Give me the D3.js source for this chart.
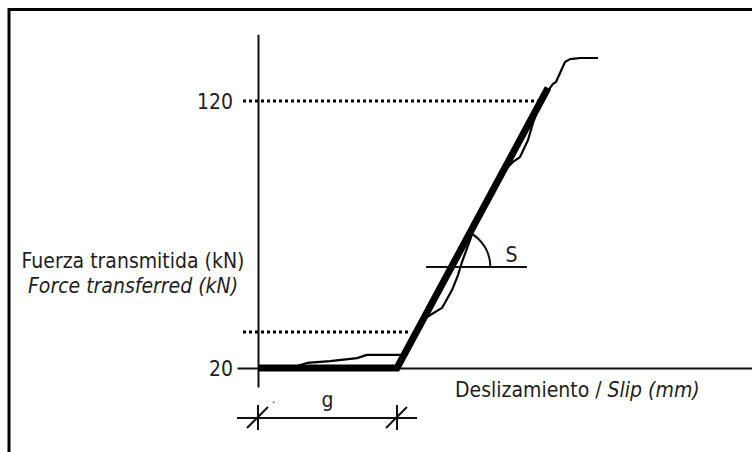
<!DOCTYPE html>
<html>
<head>
<meta charset="utf-8">
<script src="https://cdn.jsdelivr.net/npm/d3@7"></script>
<style>
body { margin: 0; background: #fff; }
svg text { font-family: "DejaVu Sans Condensed", "DejaVu Sans", sans-serif; font-size: 21px; fill: #1e1e1e; }
</style>
</head>
<body>
<svg></svg>
<script>
var width = 752;
var height = 452;

// measured test curve: slip (mm) / force (kN)
var testSlip  = [0.1, 1.1, 1.95, 2.45, 3.6, 4.95, 5.45, 5.95, 6.95, 7.3, 8.1, 8.45, 9.2, 9.7, 10.0, 10.2, 10.6, 10.8, 11.6, 12.45, 12.75, 13.1, 13.5, 13.75, 13.9, 14.35, 14.6, 14.75, 14.9, 15.35, 15.6, 16.1, 17.0];
var testForce = [20.4, 20.4, 20.7, 21.9, 22.6, 23.7, 24.9, 24.9, 24.9, 24.9, 36.1, 39.1, 42.5, 49.2, 54.8, 59.7, 67.9, 72.4, 83.7, 94.9, 97.2, 99.0, 105.4, 111.8, 114.8, 121.1, 124.9, 126.4, 127.1, 134.6, 135.7, 136.1, 136.1];

// idealised bilinear law
var idealSlip  = [0, 6.95, 14.5];
var idealForce = [20, 20, 124.9];

// dotted reference levels and where they stop
var refForce = [120, 33.5];
var refStart = [-0.75, -0.75];
var refEnd   = [14.1, 7.6];

var yTicks = [20, 120];
var gapSlip = 6.95;       // g
var slopeForce = 57.8;    // level of the S marker
var slopeLine = [8.4, 13.45];

var svg = d3.select("svg")
    .attr("width", width)
    .attr("height", height);

var xScale = d3.scaleLinear()
    .domain([0, 10])
    .range([258, 458]);

var yScale = d3.scaleLinear()
    .domain([20, 120])
    .range([368, 101]);

// frame
svg.append("rect")
    .attr("x", 9)
    .attr("y", 9.5)
    .attr("width", width + 20)
    .attr("height", height + 20)
    .attr("fill", "none")
    .attr("stroke", "#000")
    .attr("stroke-width", 3);

// axes
var yAxisScale = yScale.copy()
    .domain([12.9, 145])
    .range([yScale(12.9), yScale(145)]);

svg.append("g")
    .attr("transform", "translate(" + xScale(0) + ",0)")
    .call(d3.axisLeft(yAxisScale).tickValues(yTicks).tickSize(0).tickSizeOuter(0).tickPadding(25))
    .call(g => g.select(".domain").attr("stroke", "#111").attr("stroke-width", 2))
    .call(g => g.selectAll("text")
        .attr("font-size", null)
        .attr("font-family", null)
        .attr("fill", null)
        .attr("dy", "0.36em"));

var xAxisScale = xScale.copy()
    .domain([-1.05, 24.8])
    .range([xScale(-1.05), xScale(24.8)]);

svg.append("g")
    .attr("transform", "translate(0," + yScale(20) + ")")
    .call(d3.axisBottom(xAxisScale).tickValues([]).tickSizeOuter(0))
    .call(g => g.select(".domain").attr("stroke", "#111").attr("stroke-width", 2));

// dotted levels
svg.selectAll(".ref")
    .data(refForce)
  .enter()
    .append("line")
    .attr("class", "ref")
    .attr("x1", (d, i) => xScale(refStart[i]))
    .attr("x2", (d, i) => xScale(refEnd[i]))
    .attr("y1", d => yScale(d))
    .attr("y2", d => yScale(d))
    .attr("stroke", "#000")
    .attr("stroke-width", 3)
    .attr("stroke-dasharray", "3,3");

var line = d3.line()
    .x(d => xScale(d[0]))
    .y(d => yScale(d[1]));

svg.append("path")
    .datum(testSlip.map((s, i) => [s, testForce[i]]))
    .attr("d", line)
    .attr("fill", "none")
    .attr("stroke", "#000")
    .attr("stroke-width", 2.2)
    .attr("stroke-linejoin", "round");

svg.append("path")
    .datum(idealSlip.map((s, i) => [s, idealForce[i]]))
    .attr("d", line)
    .attr("fill", "none")
    .attr("stroke", "#000")
    .attr("stroke-width", 7);

// slope marker S
var dx = xScale(idealSlip[2]) - xScale(idealSlip[1]);
var dy = yScale(idealForce[2]) - yScale(idealForce[1]);
var angle = Math.atan2(dy, dx);
var cx = xScale(idealSlip[1]) + (yScale(slopeForce) - yScale(20)) * dx / dy;
var cy = yScale(slopeForce);
var r = 39;

svg.append("line")
    .attr("x1", xScale(slopeLine[0]))
    .attr("x2", xScale(slopeLine[1]))
    .attr("y1", cy)
    .attr("y2", cy)
    .attr("stroke", "#111")
    .attr("stroke-width", 2);

var arc = d3.path();
arc.moveTo(cx + r * Math.cos(angle), cy + r * Math.sin(angle));
arc.arc(cx, cy, r, angle, 0);
svg.append("path")
    .attr("d", arc.toString())
    .attr("fill", "none")
    .attr("stroke", "#111")
    .attr("stroke-width", 2);

svg.append("text")
    .attr("x", cx + 54)
    .attr("y", cy - 5)
    .text("S");

// g dimension
var dimY = yScale(20) + 50;
svg.append("line")
    .attr("x1", xScale(0) - 21)
    .attr("x2", xScale(gapSlip) + 20)
    .attr("y1", dimY)
    .attr("y2", dimY)
    .attr("stroke", "#111")
    .attr("stroke-width", 2);

[0, gapSlip].forEach(function(s) {
  var x = xScale(s);
  svg.append("line")
      .attr("x1", x).attr("x2", x)
      .attr("y1", dimY - 13).attr("y2", dimY + 12)
      .attr("stroke", "#111").attr("stroke-width", 2);
  svg.append("line")
      .attr("x1", x - 11).attr("x2", x + 10)
      .attr("y1", dimY + 10).attr("y2", dimY - 11)
      .attr("stroke", "#111").attr("stroke-width", 2);
});

svg.append("text")
    .attr("x", (xScale(0) + xScale(gapSlip)) / 2)
    .attr("y", dimY - 11)
    .style("text-anchor", "middle")
    .text("g");

svg.append("text")
    .attr("x", xScale(0) + 14)
    .attr("y", dimY - 15)
    .style("font-size", "12px")
    .text(".");

// axis titles
var yTitle = svg.append("text")
    .attr("x", 133)
    .attr("y", 268)
    .style("text-anchor", "middle");
yTitle.append("tspan")
    .attr("x", 133)
    .text("Fuerza transmitida (kN)");
yTitle.append("tspan")
    .attr("x", 133)
    .attr("dy", 25)
    .style("font-style", "italic")
    .text("Force transferred (kN)");

var xTitle = svg.append("text")
    .attr("x", 455)
    .attr("y", yScale(20) + 29);
xTitle.append("tspan").text("Deslizamiento / ");
xTitle.append("tspan").style("font-style", "italic").text("Slip (mm)");
</script>
</body>
</html>
